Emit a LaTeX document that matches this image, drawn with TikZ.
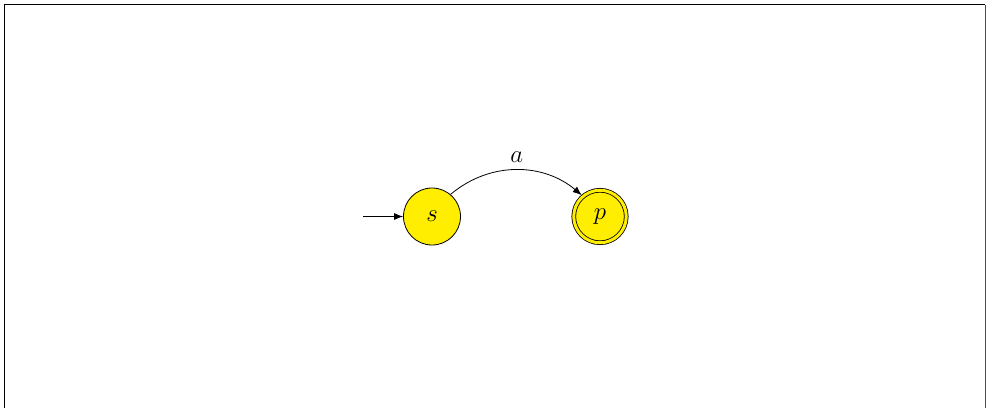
\documentclass[tikz,border=0pt]{standalone}
\usetikzlibrary{arrows.meta}
\definecolor{stateyellow}{RGB}{255,238,0}
\tikzset{
  statenode/.style={circle, draw=black, line width=0.8pt, fill=stateyellow, minimum size=57pt, inner sep=0pt, font=\fontsize{24}{28}\selectfont},
  acceptnode/.style={circle, draw=black, line width=0.8pt, fill=stateyellow, double=stateyellow, double distance=3pt, minimum size=52.5pt, inner sep=0pt, font=\fontsize{24}{28}\selectfont},
  edgeline/.style={line width=0.8pt, -{Latex[length=9pt,width=7pt]}},
  framelineL/.style={line width=1.6pt},
  framelineR/.style={line width=0.8pt, draw=black!70}
}
\begin{document}
\begin{tikzpicture}[x=1pt,y=-1pt]
\useasboundingbox (0,0) rectangle (986,408);
\coordinate (fbl) at (4.5,408);
\coordinate (ftl) at (4.5,4.5);
\coordinate (ftr) at (985,4.5);
\coordinate (fbr) at (985,408);
\draw[framelineL] (fbl) -- (ftl) -- (ftr);
\draw[framelineR] (ftr) -- (fbr);
\node[statenode] (s) at (432,216.5) {$s$};
\node[acceptnode] (p) at (600,216.5) {$p$};
\coordinate (start) at (363,216.5);
\draw[edgeline] (start) -- (s.west);
\draw[edgeline, shorten >=1.5pt] (s.50) to[out=40,in=140] node[above=4pt, font=\fontsize{24}{28}\selectfont] (lbl) {$a$} (p.130);
\end{tikzpicture}
\end{document}
